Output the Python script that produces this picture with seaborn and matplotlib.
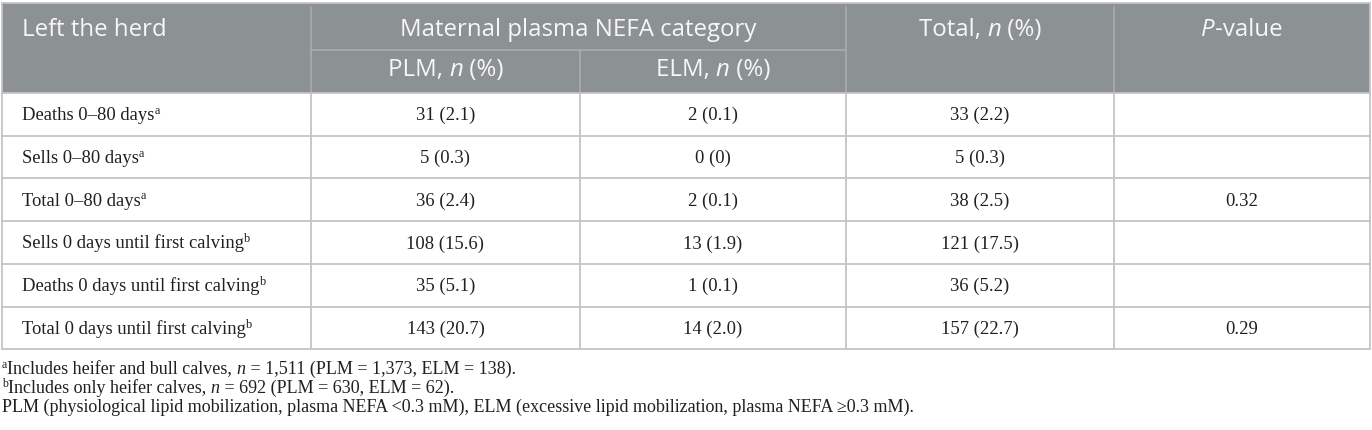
import matplotlib
matplotlib.use("Agg")
import matplotlib.pyplot as plt
import seaborn as sns

sns.set_theme(style="white")
plt.rcParams['font.family'] = ['Liberation Serif', 'DejaVu Serif']

# table data
row_labels = ["Deaths 0–80 days", "Sells 0–80 days", "Total 0–80 days",
              "Sells 0 days until first calving", "Deaths 0 days until first calving",
              "Total 0 days until first calving"]
row_marks = ["a", "a", "a", "b", "b", "b"]
plm = ["31 (2.1)", "5 (0.3)", "36 (2.4)", "108 (15.6)", "35 (5.1)", "143 (20.7)"]
elm = ["2 (0.1)", "0 (0)", "2 (0.1)", "13 (1.9)", "1 (0.1)", "14 (2.0)"]
total = ["33 (2.2)", "5 (0.3)", "38 (2.5)", "121 (17.5)", "36 (5.2)", "157 (22.7)"]
pval = ["", "", "0.32", "", "", "0.29"]

# layout (pixels)
col_x = [2, 311, 580, 846, 1114, 1370]
top = 3
head_mid = 50
head_bot = 93
row_h = 42.7

HEAD_BG = "#8c9193"
LINE = "#c4c4c4"
HEAD_LINE = "#a9adaf"
TXT = "#231f20"
SANS = ['Open Sans', 'DejaVu Sans']
SERIF = ['Liberation Serif', 'DejaVu Serif']

fig = plt.figure(figsize=(13.72, 4.30), dpi=100)
ax = fig.add_axes([0, 0, 1, 1])
ax.set_xlim(0, 1372)
ax.set_ylim(430, 0)
ax.axis("off")
rend = fig.canvas.get_renderer()


def text_w(s, size, family, style):
    t1 = ax.text(0, 0, "|" + s + "|", fontsize=size, family=family, fontstyle=style)
    t2 = ax.text(0, 0, "||", fontsize=size, family=family, fontstyle=style)
    w = t1.get_window_extent(rend).width - t2.get_window_extent(rend).width
    t1.remove()
    t2.remove()
    return w


def rich(x, y, parts, size, family, color, ha="left"):
    # parts: (text, style, superscript?)
    ws = []
    for s, style, sup in parts:
        fs = size * 0.66 if sup else size
        ws.append(text_w(s, fs, family, style))
    total_w = sum(ws)
    x0 = x - total_w / 2 if ha == "center" else x
    for (s, style, sup), w in zip(parts, ws):
        fs = size * 0.66 if sup else size
        dy = -size * 100 / 72 * 0.34 if sup else 0
        ax.text(x0, y + dy, s, fontsize=fs, family=family, fontstyle=style,
                color=color, va="baseline", ha="left")
        x0 += w


n_rows = len(row_labels)
bottom = head_bot + n_rows * row_h

# header background
ax.add_patch(plt.Rectangle((col_x[0], top), col_x[-1] - col_x[0], head_bot - top,
                           facecolor=HEAD_BG, edgecolor="none", zorder=0))
# header inner lines
for x in col_x[1:-1]:
    y0 = top + 4 if x != col_x[2] else head_mid
    ax.plot([x, x], [y0, head_bot], color=HEAD_LINE, lw=1.2, zorder=1)
ax.plot([col_x[1], col_x[3]], [head_mid, head_mid], color=HEAD_LINE, lw=1.2, zorder=1)

# body lines
for i in range(n_rows + 1):
    y = head_bot + i * row_h
    ax.plot([col_x[0], col_x[-1]], [y, y], color=LINE, lw=1.3, zorder=1)
for x in col_x:
    ax.plot([x, x], [head_bot, bottom], color=LINE, lw=1.3, zorder=1)
ax.plot([col_x[0], col_x[0]], [top, head_bot], color=LINE, lw=1.3)
ax.plot([col_x[-1], col_x[-1]], [top, head_bot], color=LINE, lw=1.3)
ax.plot([col_x[0], col_x[-1]], [top, top], color=LINE, lw=1.3)

# header text
hs = 17.3
hy1 = 36
hy2 = 76
HW = "#f7f7f7"
rich(22, hy1, [("Left the herd", "normal", False)], hs, SANS, HW)
rich((col_x[1] + col_x[3]) / 2, hy1, [("Maternal plasma NEFA category", "normal", False)],
     hs, SANS, HW, ha="center")
rich((col_x[3] + col_x[4]) / 2, hy1, [("Total, ", "normal", False), ("n", "italic", False),
                                      (" (%)", "normal", False)], hs, SANS, HW, ha="center")
rich((col_x[4] + col_x[5]) / 2, hy1, [("P", "italic", False), ("-value", "normal", False)],
     hs, SANS, HW, ha="center")
rich((col_x[1] + col_x[2]) / 2, hy2, [("PLM, ", "normal", False), ("n", "italic", False),
                                      (" (%)", "normal", False)], hs, SANS, HW, ha="center")
rich((col_x[2] + col_x[3]) / 2, hy2, [("ELM, ", "normal", False), ("n", "italic", False),
                                      (" (%)", "normal", False)], hs, SANS, HW, ha="center")

# body text
bs = 13.4
for i in range(n_rows):
    yb = head_bot + i * row_h + row_h / 2 + 6
    rich(22, yb, [(row_labels[i], "normal", False), (row_marks[i], "normal", True)], bs, SERIF, TXT)
    for j, col in enumerate([plm, elm, total, pval]):
        if col[i]:
            rich((col_x[j + 1] + col_x[j + 2]) / 2, yb, [(col[i], "normal", False)], bs, SERIF, TXT,
                 ha="center")

# footnotes
fs = 13
fy = [bottom + 25, bottom + 44, bottom + 63]
rich(2, fy[0], [("a", "normal", True), ("Includes heifer and bull calves, ", "normal", False),
                ("n", "italic", False), (" = 1,511 (PLM = 1,373, ELM = 138).", "normal", False)],
     fs, SERIF, TXT)
rich(2, fy[1], [("b", "normal", True), ("Includes only heifer calves, ", "normal", False),
                ("n", "italic", False), (" = 692 (PLM = 630, ELM = 62).", "normal", False)],
     fs, SERIF, TXT)
rich(2, fy[2], [("PLM (physiological lipid mobilization, plasma NEFA <0.3 mM), "
                 "ELM (excessive lipid mobilization, plasma NEFA ≥0.3 mM).", "normal", False)],
     fs, SERIF, TXT)

fig.savefig("out.png", dpi=100)
